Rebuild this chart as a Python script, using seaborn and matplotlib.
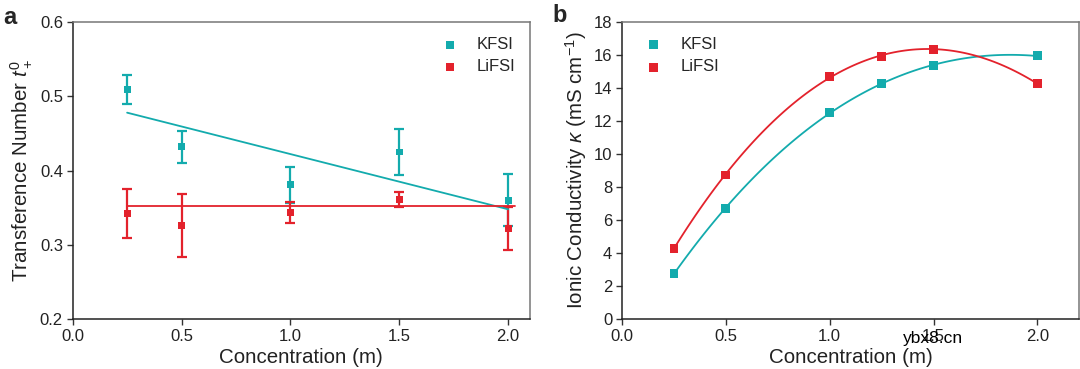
import numpy as np
import pandas as pd
import matplotlib
matplotlib.use("Agg")
import matplotlib.pyplot as plt
import seaborn as sns

# panel a: transference number
conc_a = [0.25, 0.5, 1.0, 1.5, 2.0]
k_t = [0.509, 0.432, 0.381, 0.425, 0.360]
k_t_err = [0.020, 0.022, 0.024, 0.031, 0.035]
li_t = [0.342, 0.326, 0.344, 0.361, 0.322]
li_t_err = [0.033, 0.042, 0.014, 0.010, 0.029]
k_fit_x = [0.25, 2.0]
k_fit = [0.478, 0.348]
li_fit_x = [0.25, 2.03]
li_fit = [0.352, 0.352]

# panel b: ionic conductivity
conc_b = [0.25, 0.5, 1.0, 1.25, 1.5, 2.0]
k_kappa = [2.78, 6.69, 12.54, 14.27, 15.36, 15.95]
li_kappa = [4.31, 8.73, 14.72, 15.93, 16.35, 14.27]

CYAN = "#13ABAD"
RED = "#E3222C"

sns.set_theme(style="ticks")
plt.rcParams["font.family"] = ["Liberation Sans", "DejaVu Sans"]
plt.rcParams["mathtext.fontset"] = "custom"
plt.rcParams["mathtext.rm"] = "Liberation Sans"
plt.rcParams["mathtext.it"] = "Liberation Sans:italic"

fig = plt.figure(figsize=(10.8, 3.69), dpi=100)
ax1 = fig.add_axes([0.0673, 0.1347, 0.4234, 0.8057])
ax2 = fig.add_axes([0.5759, 0.1347, 0.4231, 0.8057])

# ---- a ----
ax1.errorbar(conc_a, k_t, yerr=k_t_err, fmt="none", ecolor=CYAN,
             elinewidth=1.6, capsize=3.6, capthick=1.6, zorder=2)
ax1.errorbar(conc_a, li_t, yerr=li_t_err, fmt="none", ecolor=RED,
             elinewidth=1.6, capsize=3.6, capthick=1.6, zorder=2)
sns.lineplot(x=k_fit_x, y=k_fit, ax=ax1, color=CYAN, lw=1.3, zorder=3)
sns.lineplot(x=li_fit_x, y=li_fit, ax=ax1, color=RED, lw=1.3, zorder=3)
sns.scatterplot(x=conc_a, y=k_t, ax=ax1, color=CYAN, marker="s", s=24,
                edgecolor="none", label="KFSI", zorder=4)
sns.scatterplot(x=conc_a, y=li_t, ax=ax1, color=RED, marker="s", s=24,
                edgecolor="none", label="LiFSI", zorder=4)
ax1.set_xlim(0, 2.1)
ax1.set_ylim(0.2, 0.6)
ax1.set_xticks([0.0, 0.5, 1.0, 1.5, 2.0])
ax1.set_yticks([0.2, 0.3, 0.4, 0.5, 0.6])
ax1.set_xlabel("Concentration (m)", fontsize=14.8, labelpad=3)
ax1.set_ylabel("Transference Number $t_+^0$", fontsize=14.8, labelpad=4)
ax1.legend(loc="upper left", bbox_to_anchor=(0.77, 1.0), frameon=False,
           fontsize=12, handletextpad=1.0, handlelength=1.2,
           labelspacing=0.45, markerscale=1.2)

# ---- b ----
sns.regplot(x=conc_b, y=k_kappa, ax=ax2, order=3, ci=None, scatter=False,
            color=CYAN, line_kws=dict(lw=1.3))
sns.regplot(x=conc_b, y=li_kappa, ax=ax2, order=3, ci=None, scatter=False,
            color=RED, line_kws=dict(lw=1.3))
sns.scatterplot(x=conc_b, y=k_kappa, ax=ax2, color=CYAN, marker="s", s=40,
                edgecolor="none", label="KFSI", zorder=4)
sns.scatterplot(x=conc_b, y=li_kappa, ax=ax2, color=RED, marker="s", s=40,
                edgecolor="none", label="LiFSI", zorder=4)
ax2.set_xlim(0, 2.2)
ax2.set_ylim(0, 18)
ax2.set_xticks([0.0, 0.5, 1.0, 1.5, 2.0])
ax2.set_yticks(np.arange(0, 19, 2))
ax2.set_xlabel("Concentration (m)", fontsize=14.8, labelpad=3)
ax2.set_ylabel("Ionic Conductivity $\\kappa$ (mS cm$^{-1}$)", fontsize=14.8, labelpad=3)
ax2.legend(loc="upper left", bbox_to_anchor=(0.015, 1.0), frameon=False,
           fontsize=12, handletextpad=1.0, handlelength=1.2,
           labelspacing=0.45, markerscale=1.0)

for ax in (ax1, ax2):
    ax.tick_params(labelsize=12, length=4, width=1, color="#333333",
                   labelcolor="#222222", pad=3)
    for side in ("left", "bottom"):
        ax.spines[side].set_color("#222222")
        ax.spines[side].set_linewidth(1.1)
    for side in ("top", "right"):
        ax.spines[side].set_color("#777777")
        ax.spines[side].set_linewidth(1.1)
    ax.xaxis.label.set_color("#222222")
    ax.yaxis.label.set_color("#222222")

fig.text(0.003, 0.985, "a", fontsize=17, fontweight="bold", va="top")
fig.text(0.512, 0.99, "b", fontsize=17, fontweight="bold", va="top")
fig.text(0.836, 0.083, "ybx8.cn", fontsize=12.5, color="black", va="center")

plt.savefig("out.png", dpi=100)
